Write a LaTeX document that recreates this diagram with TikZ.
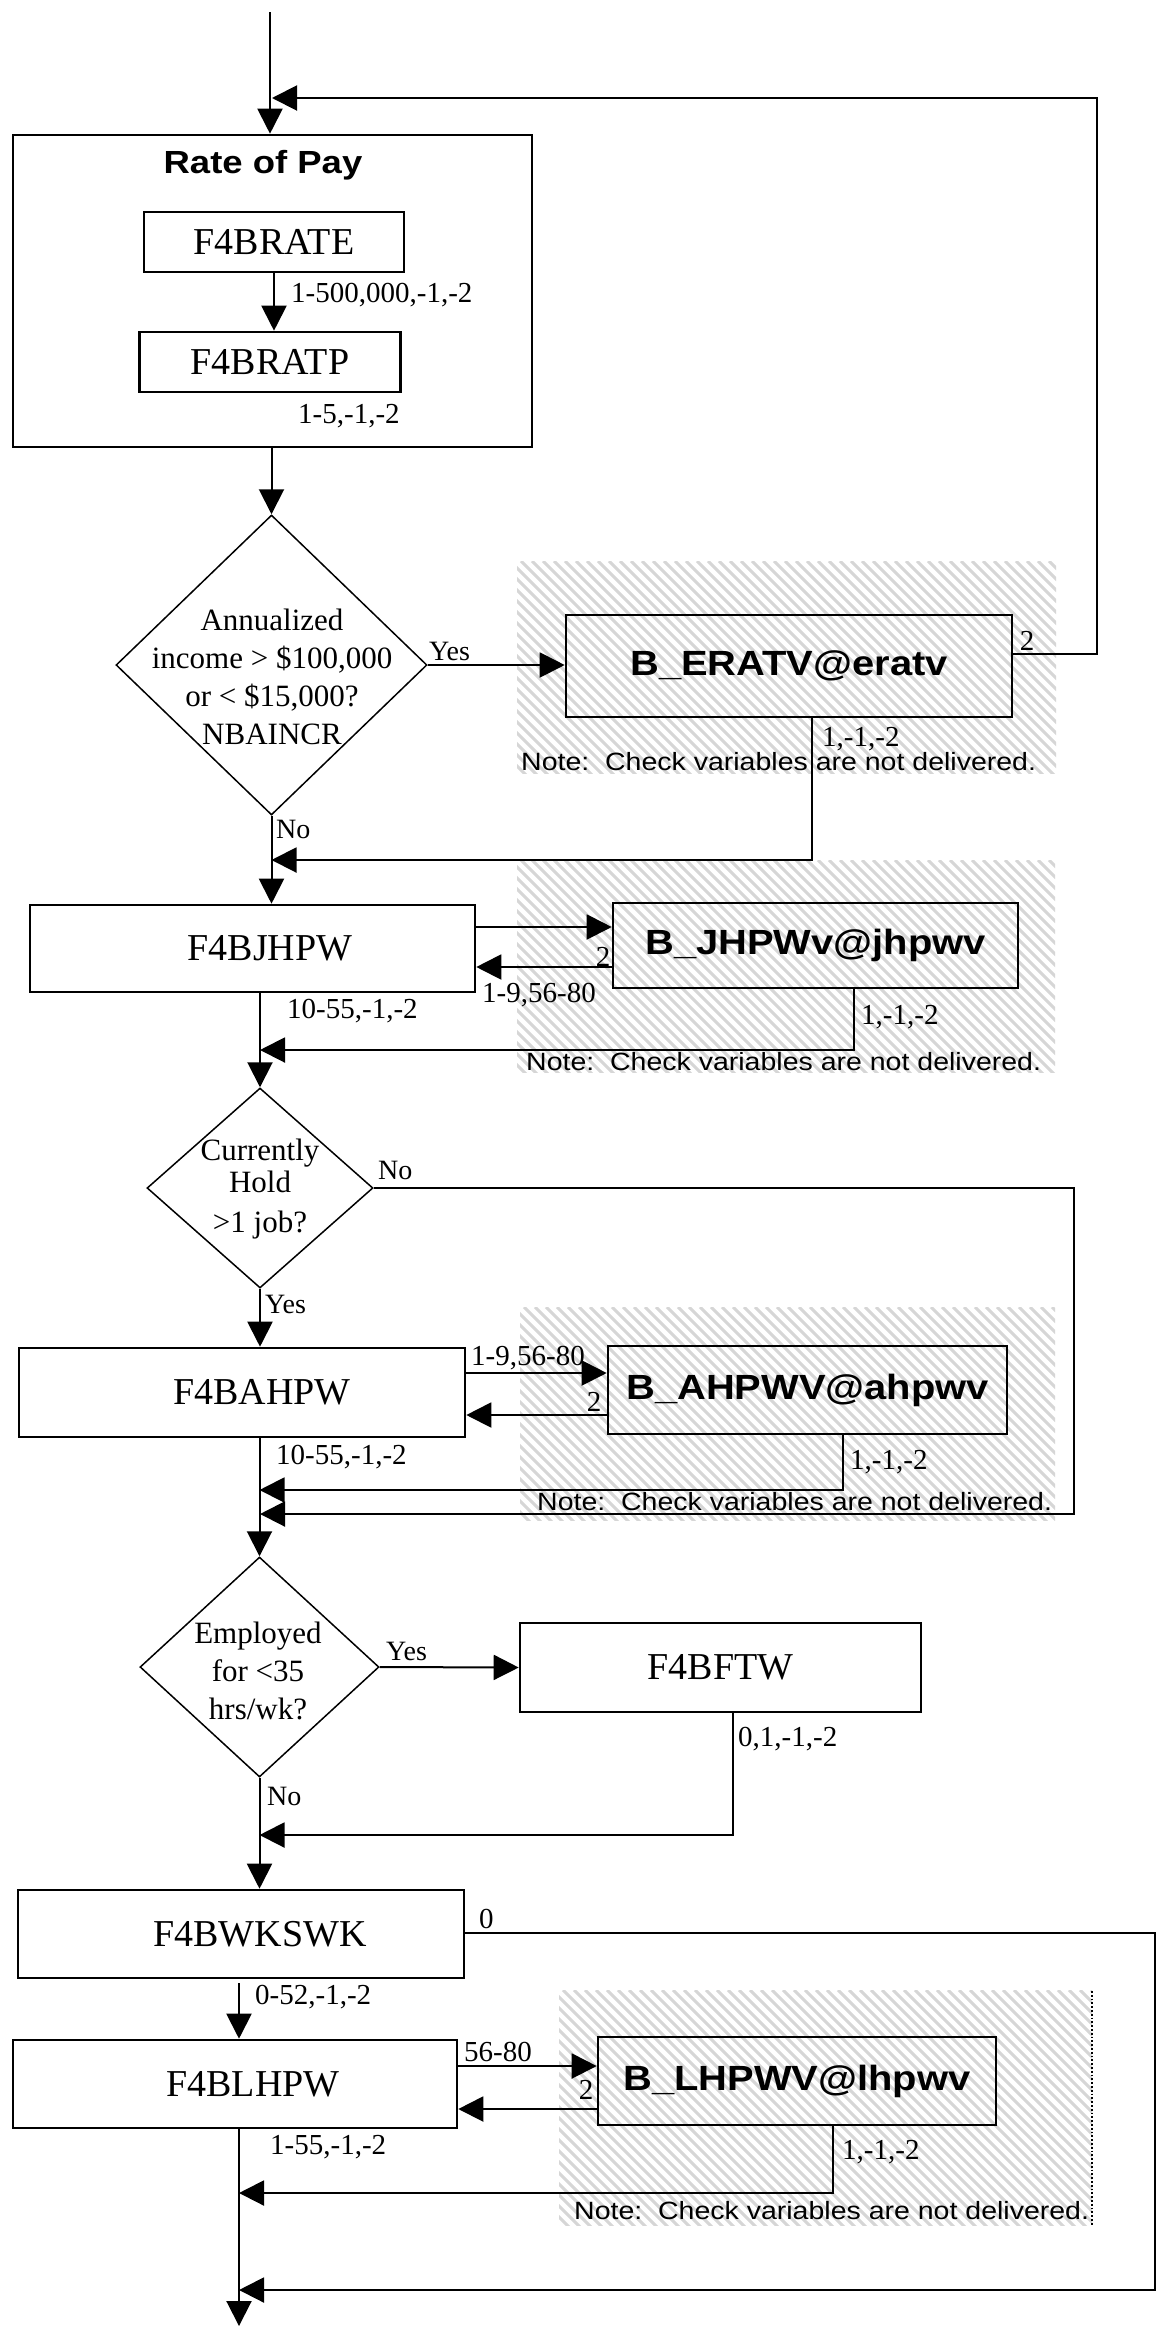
\documentclass[tikz,border=0pt]{standalone}
\usepackage{fontspec}
\setmainfont{Liberation Serif}
\newfontfamily\sansw[FakeStretch=1.14]{Liberation Sans}
\usetikzlibrary{arrows.meta,shapes.geometric}
\newcommand{\hatchrect}[4]{%
  \begin{scope}
    \clip (#1,#2) rectangle (#3,#4);
    \foreach \k in {-260,-249,...,560} {\draw[hatchline] (#1+\k,#2) -- ++(300,300);}
  \end{scope}}
\begin{document}
\begin{tikzpicture}[x=1pt,y=-1pt,
  hatchline/.style={draw=black!16, line width=3pt},
  bx/.style={draw, line width=2.6pt, inner sep=0pt, font=\fontsize{38}{44}\selectfont},
  bbx/.style={draw, line width=2.6pt, inner sep=0pt, font=\sansw\bfseries\fontsize{35}{40}\selectfont},
  dia/.style={draw, diamond, line width=1.5pt, inner sep=0pt},
  dtext/.style={align=center, inner sep=0pt, font=\fontsize{31}{38}\selectfont},
  lbl/.style={inner sep=0pt, anchor=west, font=\fontsize{29}{33}\selectfont},
  yn/.style={inner sep=0pt, anchor=west, font=\fontsize{28}{32}\selectfont},
  note/.style={inner sep=0pt, anchor=west, font=\sansw\fontsize{25}{29}\selectfont},
  arr/.style={draw, line width=2pt, -{Triangle[length=25pt,width=25pt]}}]
\useasboundingbox (0,0) rectangle (1163,2326);
\fill[white] (0,0) rectangle (1163,2326);

% hatched backgrounds
\hatchrect{517}{561}{1056}{773}
\hatchrect{517}{860}{1055}{1072}
\hatchrect{520}{1307}{1055}{1520}
\hatchrect{559}{1990}{1092}{2225}
\draw[dotted, line width=1.8pt] (1092,1991) -- (1092,2225);

% nodes
\node[bx, minimum width=519pt, minimum height=312pt] (rop) at (272.5,291) {};
\node[inner sep=0pt, font=\sansw\bfseries\fontsize{32}{36}\selectfont] (ropt) at (263,165) {Rate of Pay};
\node[bx, minimum width=260pt, minimum height=60pt] (brate) at (274,242) {F4BRATE};
\node[bx, minimum width=261pt, minimum height=60pt] (bratp) at (270,362) {F4BRATP};
\node[dia, minimum width=311pt, minimum height=300pt] (d1) at (271.5,665) {};
\node[dtext] (d1t) at (272,677) {Annualized\\income > \$100,000\\or < \$15,000?\\NBAINCR};
\node[bbx, minimum width=446pt, minimum height=102pt] (erv) at (789,666) {B\_ERATV@eratv};
\node[bx, minimum width=445pt, minimum height=87pt] (jhpw) at (252.5,948.5) {\hspace*{35pt}F4BJHPW};
\node[bbx, minimum width=405pt, minimum height=85pt] (jhv) at (815.5,945.5) {B\_JHPWv@jhpwv};
\node[dia, minimum width=226pt, minimum height=200pt] (d2) at (260,1188) {};
\node[dtext] (d2t) at (260,1189) {Currently\\[-6pt]Hold\\[2pt]{>}1 job?};
\node[bx, minimum width=446pt, minimum height=89pt] (ahpw) at (242,1392.5) {\hspace*{40pt}F4BAHPW};
\node[bbx, minimum width=399pt, minimum height=88pt] (ahv) at (807.5,1390) {B\_AHPWV@ahpwv};
\node[dia, minimum width=239pt, minimum height=220pt] (d3) at (259.5,1667) {};
\node[dtext] (d3t) at (258,1671) {Employed\\for <35\\hrs/wk?};
\node[bx, minimum width=401pt, minimum height=89pt] (ftw) at (720.5,1667.5) {F4BFTW};
\node[bx, minimum width=446pt, minimum height=88pt] (wk) at (241,1934) {\hspace*{38pt}F4BWKSWK};
\node[bx, minimum width=444pt, minimum height=88pt] (lh) at (235,2084) {\hspace*{36pt}F4BLHPW};
\node[bbx, minimum width=398pt, minimum height=88pt] (lhv) at (797,2081) {B\_LHPWV@lhpwv};

% coordinates
\coordinate (top) at (270,12);
\coordinate (bot) at (239,2326);
\coordinate (L1a) at (1097,654);
\coordinate (L1b) at (1097,98);
\coordinate (M1) at (272,98);
\coordinate (R1) at (812,860);
\coordinate (yJ1) at (0,927);
\coordinate (yJ2) at (0,967);
\coordinate (R2) at (854,1050);
\coordinate (N2a) at (1074,1188);
\coordinate (N2b) at (1074,1514);
\coordinate (yA1) at (0,1373);
\coordinate (yA2) at (0,1415);
\coordinate (R3) at (843,1490);
\coordinate (R4) at (733,1835);
\coordinate (Z1) at (1155,1933);
\coordinate (Z2) at (1155,2290);
\coordinate (W1) at (239,1983);
\coordinate (yL1) at (0,2066);
\coordinate (yL2) at (0,2109);
\coordinate (R5) at (833,2193);

% connectors
\draw[arr] (top) -- (top |- rop.north);
\draw[arr] (erv.east |- L1a) -- (L1a) -- (L1b) -- (M1);
\draw[arr] (brate.south) -- (brate.south |- bratp.north);
\draw[arr] (rop.south -| d1.north) -- (d1.north);
\draw[arr] (d1.east) -- (d1.east -| erv.west);
\draw[arr] (erv.south -| R1) -- (R1) -- (R1 -| d1.south);
\draw[arr] (d1.south) -- (d1.south |- jhpw.north);
\draw[arr] (jhpw.east |- yJ1) -- (jhv.west |- yJ1);
\draw[arr] (jhv.west |- yJ2) -- (jhpw.east |- yJ2);
\draw[arr] (jhv.south -| R2) -- (R2) -- (R2 -| d2.north);
\draw[arr] (jhpw.south -| d2.north) -- (d2.north);
\draw[arr] (d2.east) -- (N2a) -- (N2b) -- (N2b -| d2.south);
\draw[arr] (d2.south) -- (d2.south |- ahpw.north);
\draw[arr] (ahpw.east |- yA1) -- (ahv.west |- yA1);
\draw[arr] (ahv.west |- yA2) -- (ahpw.east |- yA2);
\draw[arr] (ahv.south -| R3) -- (R3) -- (R3 -| d3.north);
\draw[arr] (ahpw.south -| d3.north) -- (d3.north);
\draw[arr] (d3.east) -- (ftw.west);
\draw[arr] (ftw.south -| R4) -- (R4) -- (R4 -| d3.south);
\draw[arr] (d3.south) -- (d3.south |- wk.north);
\draw[arr] (wk.east |- Z1) -- (Z1) -- (Z2) -- (Z2 -| bot);
\draw[arr] (W1) -- (W1 |- lh.north);
\draw[arr] (lh.east |- yL1) -- (lhv.west |- yL1);
\draw[arr] (lhv.west |- yL2) -- (lh.east |- yL2);
\draw[arr] (lhv.south -| R5) -- (R5) -- (R5 -| bot);
\draw[arr] (lh.south -| bot) -- (bot);

% labels
\node[lbl] (t1) at (291,295) {1-500,000,-1,-2};
\node[lbl] (t2) at (298,416) {1-5,-1,-2};
\node[yn] (t3) at (429,651) {Yes};
\node[lbl, anchor=center] (t4) at (1027,641) {2};
\node[lbl] (t5) at (822,739) {1,-1,-2};
\node[note] (n1) at (521,762) {Note:\ \ Check variables are not delivered.};
\node[yn] (t6) at (276,829) {No};
\node[lbl, anchor=center] (t7) at (603,957) {2};
\node[lbl] (t8) at (482,995) {1-9,56-80};
\node[lbl] (t9) at (287,1011) {10-55,-1,-2};
\node[lbl] (t10) at (861,1017) {1,-1,-2};
\node[note] (n2) at (526,1062) {Note:\ \ Check variables are not delivered.};
\node[yn] (t11) at (378,1170) {No};
\node[yn] (t12) at (265,1304) {Yes};
\node[lbl] (t13) at (471,1358) {1-9,56-80};
\node[lbl, anchor=center] (t14) at (594,1402) {2};
\node[lbl] (t15) at (276,1457) {10-55,-1,-2};
\node[lbl] (t16) at (850,1462) {1,-1,-2};
\node[note] (n3) at (537,1502) {Note:\ \ Check variables are not delivered.};
\node[yn] (t17) at (386,1651) {Yes};
\node[lbl] (t18) at (738,1739) {0,1,-1,-2};
\node[yn] (t19) at (267,1796) {No};
\node[lbl] (t20) at (479,1919) {0};
\node[lbl] (t21) at (255,1997) {0-52,-1,-2};
\node[lbl] (t22) at (464,2052) {56-80};
\node[lbl, anchor=center] (t23) at (586,2090) {2};
\node[lbl] (t24) at (270,2147) {1-55,-1,-2};
\node[lbl] (t25) at (842,2152) {1,-1,-2};
\node[note] (n4) at (574,2211) {Note:\ \ Check variables are not delivered.};
\end{tikzpicture}
\end{document}
